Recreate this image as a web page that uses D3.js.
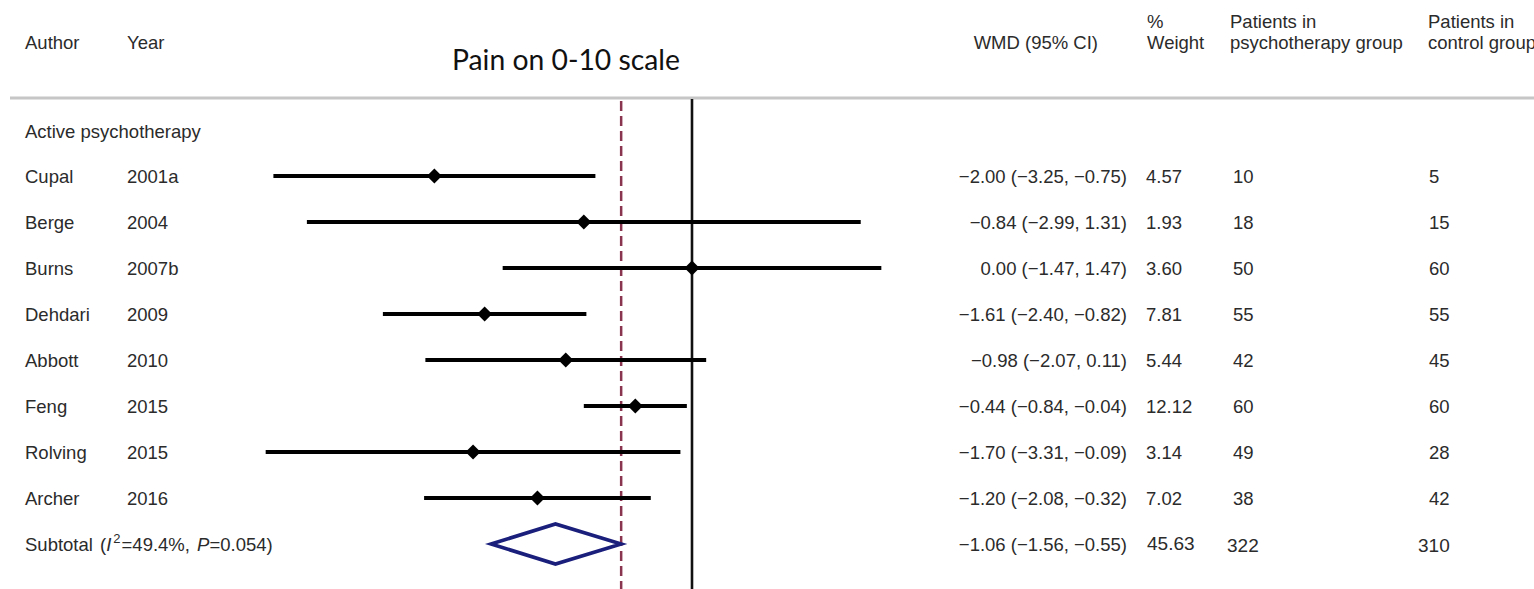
<!DOCTYPE html>
<html>
<head>
<meta charset="utf-8">
<script src="https://cdn.jsdelivr.net/npm/d3@7"></script>
<style>
  html, body { margin: 0; padding: 0; background: #ffffff; }
  svg { display: block; }
  text { font-family: "Liberation Sans", Arial, sans-serif; fill: #2b2b2b; }
</style>
</head>
<body>
<svg id="forest" width="1534" height="589"></svg>
<script>
// Studies in the "Active psychotherapy" subgroup
const authors  = ["Cupal", "Berge", "Burns", "Dehdari", "Abbott", "Feng", "Rolving", "Archer"];
const years    = ["2001a", "2004", "2007b", "2009", "2010", "2015", "2015", "2016"];
const wmd      = [-2.00, -0.84, 0.00, -1.61, -0.98, -0.44, -1.70, -1.20];
const ciLower  = [-3.25, -2.99, -1.47, -2.40, -2.07, -0.84, -3.31, -2.08];
const ciUpper  = [-0.75, 1.31, 1.47, -0.82, 0.11, -0.04, -0.09, -0.32];
const weights  = [4.57, 1.93, 3.60, 7.81, 5.44, 12.12, 3.14, 7.02];
const nPsych   = [10, 18, 50, 55, 42, 60, 49, 38];
const nControl = [5, 15, 60, 55, 45, 60, 28, 42];

// Pooled subgroup estimate
const subtotalEst = [-1.06];
const subtotalCI = [-1.56, -0.55];
const subtotalWeight = [45.63];
const subtotalN = [322, 310];
const heterogeneity = ["49.4%", "0.054"];

// Reference lines: no effect and the pooled-effect line
const nullEffect = [0];
const pooledLine = [-0.55];

const svg = d3.select("#forest");
const W = 1534, H = 589;

const x = d3.scaleLinear().domain([-3.5, 1.5]).range([692 - 3.5 * 128.8, 692 + 1.5 * 128.8]);
const rowIdx = d3.range(authors.length + 1);
const y = d3.scalePoint().domain(rowIdx).range([176, 176 + 46 * authors.length]);

const fmt = v => d3.format(".2f")(v).replace("-", "\u2212");
const FS = 18.5;

// Column headers
const header = svg.append("g").style("font-size", FS + "px");
header.append("text").attr("x", 25).attr("y", 48.5).text("Author");
header.append("text").attr("x", 127).attr("y", 48.5).text("Year");
header.append("text").attr("x", 1098).attr("y", 48.5).attr("text-anchor", "end").text("WMD (95% CI)");
header.append("text").attr("x", 1147).attr("y", 28).text("%");
header.append("text").attr("x", 1147).attr("y", 48.5).text("Weight");
header.append("text").attr("x", 1230).attr("y", 28).text("Patients in");
header.append("text").attr("x", 1230).attr("y", 48.5).text("psychotherapy group");
header.append("text").attr("x", 1428).attr("y", 28).text("Patients in");
header.append("text").attr("x", 1428).attr("y", 48.5).text("control group");

// Title, sized to its box
const title = svg.append("text")
  .attr("x", 452).attr("y", 70)
  .style("font-family", "Lato, 'Open Sans', sans-serif")
  .style("fill", "#111")
  .style("font-size", "20px")
  .text("Pain on 0-10 scale");
const tw = title.node().getComputedTextLength();
title.style("font-size", (20 * 228 / tw) + "px");

// Header rule
svg.append("line")
  .attr("x1", 10).attr("x2", W).attr("y1", 98).attr("y2", 98)
  .attr("stroke", "#c6c6c6").attr("stroke-width", 3);

// Subgroup label
svg.append("text").attr("x", 25).attr("y", 138).style("font-size", FS + "px").text("Active psychotherapy");

// Reference lines
svg.selectAll("line.null").data(nullEffect).join("line")
  .attr("class", "null")
  .attr("x1", d => x(d)).attr("x2", d => x(d))
  .attr("y1", 99).attr("y2", H)
  .attr("stroke", "#111").attr("stroke-width", 2.6);

svg.selectAll("line.pooled").data(pooledLine).join("line")
  .attr("class", "pooled")
  .attr("x1", d => x(d)).attr("x2", d => x(d))
  .attr("y1", 101).attr("y2", H)
  .attr("stroke", "#8a3550").attr("stroke-width", 2.5)
  .attr("stroke-dasharray", "10,5");

// Study rows
const studies = authors.map((a, i) => ({
  author: a, year: years[i], est: wmd[i], lo: ciLower[i], hi: ciUpper[i],
  w: weights[i], np: nPsych[i], nc: nControl[i], row: i
}));

const rows = svg.selectAll("g.study").data(studies).join("g")
  .attr("class", "study")
  .attr("transform", d => `translate(0,${y(d.row)})`)
  .style("font-size", FS + "px");

rows.append("line")
  .attr("x1", d => x(d.lo)).attr("x2", d => x(d.hi))
  .attr("stroke", "#000").attr("stroke-width", 3.8);

rows.append("path")
  .attr("d", d => {
    const cx = x(d.est), r = 7.5;
    return `M${cx - r},0L${cx},${-r}L${cx + r},0L${cx},${r}Z`;
  })
  .attr("fill", "#000");

rows.append("text").attr("x", 25).attr("y", 6.5).text(d => d.author);
rows.append("text").attr("x", 127).attr("y", 6.5).text(d => d.year);
rows.append("text").attr("x", 1127).attr("y", 6.5).attr("text-anchor", "end")
  .text(d => `${fmt(d.est)} (${fmt(d.lo)}, ${fmt(d.hi)})`);
rows.append("text").attr("x", 1146).attr("y", 6.5).text(d => d.w.toFixed(2));
rows.append("text").attr("x", 1233).attr("y", 6.5).text(d => d.np);
rows.append("text").attr("x", 1429).attr("y", 6.5).text(d => d.nc);

// Subtotal row
const sy = y(authors.length);
const sub = svg.append("g").attr("transform", `translate(0,${sy})`).style("font-size", FS + "px");

const subLabel = sub.append("text").attr("x", 25).attr("y", 6.5);
subLabel.append("tspan").text("Subtotal");
subLabel.append("tspan").attr("x", 100).text("(");
subLabel.append("tspan").style("font-style", "italic").text("I");
subLabel.append("tspan").attr("dx", 2).attr("dy", -8).style("font-size", "13px").text("2");
subLabel.append("tspan").attr("dx", 1).attr("dy", 8).text("=" + heterogeneity[0] + ", ");
subLabel.append("tspan").attr("dx", 2).style("font-style", "italic").text("P");
subLabel.append("tspan").text("=" + heterogeneity[1] + ")");

sub.selectAll("path.pooled").data(subtotalEst).join("path")
  .attr("class", "pooled")
  .attr("d", d => `M${x(subtotalCI[0])},0L${x(d)},-20L${x(subtotalCI[1])},0L${x(d)},20Z`)
  .attr("fill", "#fff").attr("stroke", "#1b1f7c").attr("stroke-width", 3.6)
  .attr("stroke-linejoin", "miter");

sub.append("text").attr("x", 1127).attr("y", 6.5).attr("text-anchor", "end")
  .text(`${fmt(subtotalEst[0])} (${fmt(subtotalCI[0])}, ${fmt(subtotalCI[1])})`);
sub.append("text").attr("x", 1147).attr("y", 5.5).style("font-size", "19px").text(subtotalWeight[0].toFixed(2));
sub.append("text").attr("x", 1227).attr("y", 8).style("font-size", "19px").text(subtotalN[0]);
sub.append("text").attr("x", 1418).attr("y", 8).style("font-size", "19px").text(subtotalN[1]);
</script>
</body>
</html>
